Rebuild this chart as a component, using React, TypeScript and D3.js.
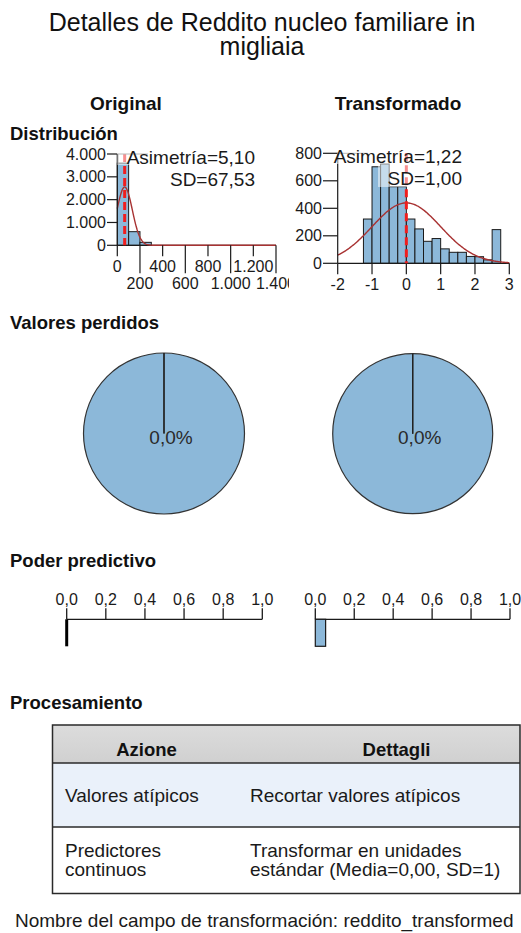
import React from "react";
import * as d3 from "d3";

// ---------- data ----------
const title = ["Detalles de Reddito nucleo familiare in", "migliaia"];
const columnHeads = ["Original", "Transformado"];
const sectionTitles = ["Distribución", "Valores perdidos", "Poder predictivo", "Procesamiento"];

const origBinEdges = [0, 100, 200, 300];
const origCounts = [3600, 597, 130];
const origMean = 65;
const origSD = 67.53;
const origSkewLabel = "Asimetría=5,10";
const origSDLabel = "SD=67,53";
const origXTicks = [0, 200, 400, 600, 800, 1000, 1200, 1400];
const origYTicks = [0, 1000, 2000, 3000, 4000];

const transBinEdges = [-1.25, -1, -0.75, -0.5, -0.25, 0, 0.25, 0.5, 0.75, 1, 1.25, 1.5, 1.75, 2, 2.25, 2.5, 2.75];
const transCounts = [322, 702, 722, 557, 557, 322, 250, 160, 180, 105, 80, 80, 50, 48, 25, 245];
const transMean = 0;
const transSD = 1.0;
const transSkewLabel = "Asimetría=1,22";
const transSDLabel = "SD=1,00";
const transXTicks = [-2, -1, 0, 1, 2, 3];
const transYTicks = [0, 200, 400, 600, 800];

const missingPct = [0.0, 0.0];
const missingLabel = "0,0%";

const predictiveTicks = [0, 0.2, 0.4, 0.6, 0.8, 1.0];
const predictivePower = [0.0, 0.053];

const tableHead = ["Azione", "Dettagli"];
const tableRows = [
  [["Valores atípicos"], ["Recortar valores atípicos"]],
  [["Predictores", "continuos"], ["Transformar en unidades", "estándar (Media=0,00, SD=1)"]],
];
const footer = "Nombre del campo de transformación: reddito_transformed";

// ---------- style ----------
const FONT = "'Liberation Sans', Arial, sans-serif";
const BLUE = "#8cb8d9";
const INK = "#1a1a1a";
const CURVE = "#a83232";
const MEANRED = "#f01e1e";

const locale = d3.formatLocale({ decimal: ",", thousands: ".", grouping: [3], currency: ["", ""] });
const fmtThousands = locale.format(",d");
const fmt1 = locale.format(".1f");

function Histogram(props: any) {
  const { x0, x1, y0, y1, xDomain, yDomain, edges, counts, mean, sd, xTicks, yTicks, alternate, clipRight, id,
    yLabelRight, skewLabel, sdLabel, annoRight, annoBoxes, xFmt, yFmt } = props;
  const x = d3.scaleLinear().domain(xDomain).range([x0, x1]);
  const y = d3.scaleLinear().domain(yDomain).range([y0, y1]);
  const N = d3.sum(counts);
  const bw = edges[1] - edges[0];
  const samples = d3.range(0, 201).map((i: number) => xDomain[0] + (i / 200) * (xDomain[1] - xDomain[0]));
  const line = d3.line<number>()
    .x((v) => x(v))
    .y((v) => y((N * bw) / (sd * Math.sqrt(2 * Math.PI)) * Math.exp(-0.5 * ((v - mean) / sd) ** 2)));
  return (
    <g clipPath={clipRight ? `url(#${id})` : undefined}>
      {clipRight && (
        <defs>
          <clipPath id={id}>
            <rect x={0} y={0} width={clipRight} height={933} />
          </clipPath>
        </defs>
      )}
      {counts.map((c: number, i: number) => (
        <rect key={i} x={x(edges[i])} y={y(c)} width={x(edges[i + 1]) - x(edges[i])} height={y(0) - y(c)}
          fill={BLUE} stroke={INK} strokeWidth={1} />
      ))}
      <line x1={x0} x2={x1} y1={y0} y2={y0} stroke={INK} strokeWidth={1.2} />
      <path d={line(samples) || ""} fill="none" stroke={CURVE} strokeWidth={1.4} />
      <line x1={x0} x2={x0} y1={y0} y2={y1} stroke={INK} strokeWidth={1.2} />
      {yTicks.map((t: number) => (
        <g key={t}>
          <line x1={yLabelRight + 1} x2={x0} y1={y(t)} y2={y(t)} stroke={INK} strokeWidth={1.2} />
          <text x={yLabelRight} y={y(t) + 5.5} textAnchor="end" fontSize={16} fontFamily={FONT} fill={INK}>{yFmt(t)}</text>
        </g>
      ))}
      {xTicks.map((t: number, i: number) => {
        const low = alternate && i % 2 === 1;
        return (
          <g key={t}>
            <line x1={x(t)} x2={x(t)} y1={y0} y2={low ? y0 + 28 : y0 + 11} stroke={INK} strokeWidth={1.2} />
            <text x={x(t)} y={low ? y0 + 43.5 : y0 + 27} textAnchor="middle" fontSize={16} fontFamily={FONT} fill={INK}>{xFmt(t)}</text>
          </g>
        );
      })}
      <line x1={x(mean)} x2={x(mean)} y1={y1} y2={y0} stroke={MEANRED} strokeWidth={3} strokeDasharray="8,4" />
      {annoBoxes.map((b: number[], i: number) => (
        <rect key={i} x={b[0]} y={b[1]} width={b[2] - b[0]} height={b[3] - b[1]} fill="#ffffff" fillOpacity={0.5}
          stroke="none" />
      ))}
      <path d={`M${annoBoxes[0][0]},${annoBoxes[0][3]}V${annoBoxes[0][1]}H${annoBoxes[0][0] + 30}`} fill="none"
        stroke="#b8b8b8" strokeWidth={1} />
      <text x={annoRight} y={y1 + 9.5} textAnchor="end" fontSize={19} fontFamily={FONT} fill={INK}>{skewLabel}</text>
      <text x={annoRight} y={y1 + 31.5} textAnchor="end" fontSize={19} fontFamily={FONT} fill={INK}>{sdLabel}</text>
    </g>
  );
}

function Pie(props: any) {
  const { cx, cy, r, pct } = props;
  const arcs = d3.pie<number>().sort(null)([100 - pct, pct]);
  const arc = d3.arc<any>().innerRadius(0).outerRadius(r);
  return (
    <g transform={`translate(${cx},${cy})`}>
      {arcs.map((a: any, i: number) => (
        <path key={i} d={arc(a) || ""} fill={BLUE} stroke="#333" strokeWidth={1.2} />
      ))}
      <line x1={0} x2={0} y1={0} y2={-r} stroke="#222" strokeWidth={1.4} />
      <text x={7} y={10} textAnchor="middle" fontSize={19} fontFamily={FONT} fill="#2a2a2a">{missingLabel}</text>
    </g>
  );
}

function Predictive(props: any) {
  const { x0, x1, y, value } = props;
  const x = d3.scaleLinear().domain([0, 1]).range([x0, x1]);
  const w = x(value) - x(0);
  return (
    <g>
      <line x1={x0} x2={x1} y1={y} y2={y} stroke={INK} strokeWidth={1.3} />
      {predictiveTicks.map((t) => (
        <g key={t}>
          <line x1={x(t)} x2={x(t)} y1={y} y2={y - 11} stroke={INK} strokeWidth={1.3} />
          <text x={x(t)} y={y - 14} textAnchor="middle" fontSize={16} fontFamily={FONT} fill={INK}>{fmt1(t)}</text>
        </g>
      ))}
      {w < 1 ? (
        <line x1={x(0)} x2={x(0)} y1={y} y2={y + 27} stroke="#000" strokeWidth={3} />
      ) : (
        <rect x={x(0)} y={y} width={w} height={27} fill={BLUE} stroke={INK} strokeWidth={1.2} />
      )}
    </g>
  );
}

export default function App() {
  const tL = 52.5, tR = 520, hTop = 725, hBot = 763, r1Bot = 827, r2Bot = 893.5, col2 = 250;
  return (
    <svg width={521} height={933} style={{ position: "absolute", left: 0, top: 0, background: "#fff" }}>
      <rect x={0} y={0} width={521} height={933} fill="#fff" />
      <text x={262} y={30.5} textAnchor="middle" fontSize={25} fontFamily={FONT} fill="#111">{title[0]}</text>
      <text x={262} y={55} textAnchor="middle" fontSize={25} fontFamily={FONT} fill="#111">{title[1]}</text>

      <text x={126} y={110} textAnchor="middle" fontSize={19} fontWeight="bold" fontFamily={FONT} fill="#111">{columnHeads[0]}</text>
      <text x={398} y={110} textAnchor="middle" fontSize={19} fontWeight="bold" fontFamily={FONT} fill="#111">{columnHeads[1]}</text>

      <text x={10} y={140} fontSize={18.5} fontWeight="bold" fontFamily={FONT} fill="#111">{sectionTitles[0]}</text>
      <text x={10} y={329} fontSize={18.5} fontWeight="bold" fontFamily={FONT} fill="#111">{sectionTitles[1]}</text>
      <text x={10} y={566.5} fontSize={18.5} fontWeight="bold" fontFamily={FONT} fill="#111">{sectionTitles[2]}</text>
      <text x={10} y={708.5} fontSize={18.5} fontWeight="bold" fontFamily={FONT} fill="#111">{sectionTitles[3]}</text>

      <Histogram id="clipOrig" x0={117.3} x1={276} y0={245.3} y1={154} xDomain={[0, 1400]} yDomain={[0, 4000]}
        edges={origBinEdges} counts={origCounts} mean={origMean} sd={origSD} xTicks={origXTicks} yTicks={origYTicks}
        alternate={true} clipRight={289} yLabelRight={106} skewLabel={origSkewLabel} sdLabel={origSDLabel}
        annoRight={255} annoBoxes={[[118, 154, 257, 165], [168, 165, 257, 188]]}
        xFmt={(v: number) => fmtThousands(v)} yFmt={(v: number) => fmtThousands(v)} />

      <Histogram id="clipTrans" x0={337.7} x1={509.3} y0={263.3} y1={153.3} xDomain={[-2, 3]} yDomain={[0, 800]}
        edges={transBinEdges} counts={transCounts} mean={transMean} sd={transSD} xTicks={transXTicks} yTicks={transYTicks}
        alternate={false} clipRight={null} yLabelRight={322} skewLabel={transSkewLabel} sdLabel={transSDLabel}
        annoRight={462} annoBoxes={[[337.7, 153.3, 464, 164], [378, 164, 464, 187]]}
        xFmt={(v: number) => String(v)} yFmt={(v: number) => String(v)} />

      <Pie cx={164} cy={433.5} r={80.5} pct={missingPct[0]} />
      <Pie cx={412.7} cy={433.7} r={80} pct={missingPct[1]} />

      <Predictive x0={66.7} x1={262.3} y={619.3} value={predictivePower[0]} />
      <Predictive x0={315.3} x1={510} y={619.3} value={predictivePower[1]} />

      {/* table */}
      <defs>
        <linearGradient id="hdr" x1="0" x2="0" y1="0" y2="1">
          <stop offset="0" stopColor="#dcdcdc" />
          <stop offset="1" stopColor="#d0d0d0" />
        </linearGradient>
      </defs>
      <rect x={tL} y={hTop} width={tR - tL} height={hBot - hTop} fill="url(#hdr)" />
      <rect x={tL} y={hBot} width={tR - tL} height={r1Bot - hBot} fill="#eaf1fa" />
      <rect x={tL} y={r1Bot} width={tR - tL} height={r2Bot - r1Bot} fill="#ffffff" />
      <rect x={tL} y={hTop} width={tR - tL} height={r2Bot - hTop} fill="none" stroke="#2a2a2a" strokeWidth={1.5} />
      <line x1={tL} x2={tR} y1={hBot} y2={hBot} stroke="#2a2a2a" strokeWidth={1.5} />
      <line x1={tL} x2={tR} y1={r1Bot} y2={r1Bot} stroke="#2a2a2a" strokeWidth={1.5} />
      <text x={146.5} y={756} textAnchor="middle" fontSize={18.5} fontWeight="bold" fontFamily={FONT} fill="#111">{tableHead[0]}</text>
      <text x={396.5} y={756} textAnchor="middle" fontSize={18.5} fontWeight="bold" fontFamily={FONT} fill="#111">{tableHead[1]}</text>
      {tableRows.map((row, ri) => {
        const top = ri === 0 ? hBot : r1Bot;
        const bot = ri === 0 ? r1Bot : r2Bot;
        return row.map((cell, ci) => {
          const n = cell.length;
          const mid = (top + bot) / 2;
          return cell.map((ln, li) => (
            <text key={`${ri}-${ci}-${li}`} x={ci === 0 ? 65 : col2} y={mid + 6.5 + (li - (n - 1) / 2) * 19}
              fontSize={19} fontFamily={FONT} fill="#1a1a1a">{ln}</text>
          ));
        });
      })}
      <text x={15} y={926.5} fontSize={19} fontFamily={FONT} fill="#1a1a1a">{footer}</text>
    </svg>
  );
}
